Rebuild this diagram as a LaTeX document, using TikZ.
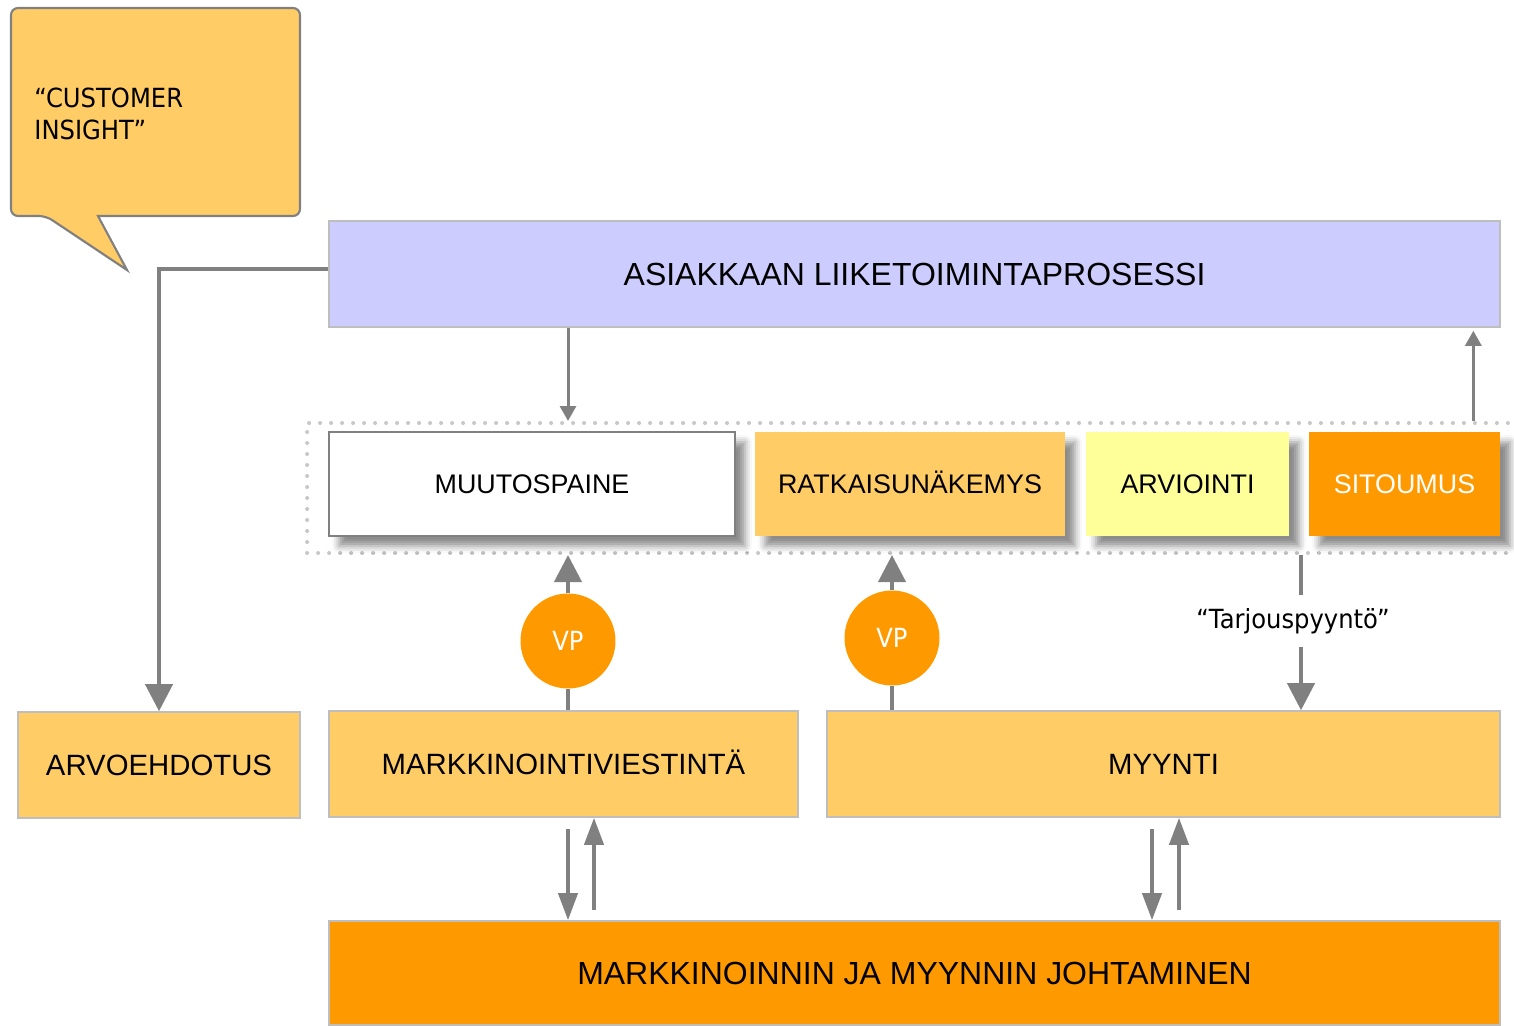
\documentclass[tikz,border=0pt]{standalone}
\usepackage{fontspec}
\setmainfont{Liberation Sans}
\newfontfamily\tahomafont[FakeStretch=0.92]{DejaVu Sans}
\usepackage{tikz}
\usetikzlibrary{positioning,arrows.meta,shadows.blur}
\usepackage{xcolor}
\definecolor{lavender}{RGB}{204,204,255}
\definecolor{softorange}{RGB}{255,204,102}
\definecolor{paleyellow}{RGB}{255,255,153}
\definecolor{deeporange}{RGB}{255,153,0}
\definecolor{edgegray}{RGB}{190,190,190}
\definecolor{arrowgray}{RGB}{128,128,128}
\definecolor{dotgray}{RGB}{200,200,200}

\tikzset{
  block/.style={rectangle,draw=edgegray,line width=0.9pt,inner sep=0pt,
    text height=12pt,text depth=0pt,
    minimum height=2.12cm,font=\fontsize{16.7}{19}\selectfont},
  wideblock/.style={block,text height=13pt,font=\fontsize{18.2}{21}\selectfont},
  phasebox/.style={rectangle,draw=none,inner sep=0pt,minimum height=2.08cm,
    text height=11pt,text depth=0pt,
    font=\fontsize{15.3}{18}\selectfont,
    blur shadow={shadow xshift=0.2cm,shadow yshift=-0.2cm,
      shadow blur radius=0.14cm,shadow opacity=45}},
  vpball/.style={circle,fill=deeporange,text=white,minimum size=1.9cm,inner sep=0pt,
    font=\tahomafont\fontsize{15}{18}\selectfont},
  bigarrow/.style={draw=arrowgray,line width=2.3pt,-{Triangle[width=0.54cm,length=0.54cm]}},
  pairarrow/.style={draw=arrowgray,line width=2.3pt,-{Triangle[width=0.38cm,length=0.54cm]}},
  smallarrow/.style={draw=arrowgray,line width=1.7pt,-{Triangle[width=0.32cm,length=0.3cm]}},
  plainline/.style={draw=arrowgray,line width=2.3pt},
}

\begin{document}
\begin{tikzpicture}[x=0.02cm,y=-0.02cm]
\useasboundingbox (0,0) rectangle (1514,1025);

% puhekupla
\path[draw=arrowgray,fill=softorange,line width=1.2pt]
  (46,216) -- (127,270) -- (98,216)
  [rounded corners=0.14cm] -- (300,216) -- (300,8) -- (11,8) -- (11,216) -- cycle;
\node[anchor=west,align=left,inner sep=0pt,font=\tahomafont\fontsize{15}{18.5}\selectfont]
  (insight) at (34,114) {“CUSTOMER\\INSIGHT”};

% ylarivi
\node[wideblock,fill=lavender,minimum width=23.42cm] (asiakas) at (914.5,274)
  {ASIAKKAAN LIIKETOIMINTAPROSESSI};

% vaiheet
\node[rectangle,draw=dotgray,line width=2.3pt,dash pattern=on 0pt off 0.22cm,line cap=round,
  minimum width=24.46cm,minimum height=2.6cm] (kehys) at (918.5,488) {};
\node[phasebox,fill=white,draw=arrowgray,line width=1.1pt,minimum width=8.12cm] (muutos) at (532,484) {MUUTOSPAINE};
\node[phasebox,fill=softorange,minimum width=6.2cm] (ratkaisu) at (910,484) {RATKAISUNÄKEMYS};
\node[phasebox,fill=paleyellow,minimum width=4.06cm] (arviointi) at (1187.5,484) {ARVIOINTI};
\node[phasebox,fill=deeporange,text=white,minimum width=3.82cm] (sitoumus) at (1404.5,484) {SITOUMUS};

% alarivit
\node[block,fill=softorange,minimum width=5.64cm] (arvo) at (159,765) {ARVOEHDOTUS};
\node[block,fill=softorange,minimum width=9.38cm] (viestinta) at (563.5,764) {MARKKINOINTIVIESTINTÄ};
\node[block,fill=softorange,minimum width=13.46cm] (myynti) at (1163.5,764) {MYYNTI};
\node[wideblock,fill=deeporange,minimum width=23.42cm,minimum height=2.08cm] (johto) at (914.5,973)
  {MARKKINOINNIN JA MYYNNIN JOHTAMINEN};

\node[vpball] (vp1) at (568,641) {VP};
\node[vpball] (vp2) at (892,638) {VP};
\node[inner sep=0pt,minimum height=1.04cm,font=\tahomafont\fontsize{15}{18}\selectfont]
  (tarjous) at (1301,621) {\hspace*{-0.32cm}“Tarjouspyyntö”};

% nuolet
\draw[smallarrow] (asiakas.south -| vp1) -- (kehys.north -| vp1);
\draw[smallarrow] ([xshift=-0.54cm]kehys.north -| sitoumus.east) -- ([xshift=-0.54cm,yshift=-0.06cm]asiakas.south -| sitoumus.east);
\draw[bigarrow] ([yshift=0.1cm]asiakas.west) -| (arvo.north);

\draw[plainline] (viestinta.north -| vp1) -- (vp1.south);
\draw[bigarrow] (vp1.north) -- (kehys.south -| vp1);
\draw[plainline] (myynti.north -| vp2) -- (vp2.south);
\draw[bigarrow] (vp2.north) -- (kehys.south -| vp2);

\draw[plainline] (kehys.south -| tarjous) -- (tarjous.north);
\draw[bigarrow] (tarjous.south) -- (myynti.north -| tarjous);

\draw[pairarrow] ([yshift=-0.22cm]viestinta.south -| vp1) -- (johto.north -| vp1);
\draw[pairarrow] ([xshift=0.52cm,yshift=0.2cm]johto.north -| vp1) -- ([xshift=0.52cm]viestinta.south -| vp1);
\draw[pairarrow] ([xshift=-0.23cm,yshift=-0.22cm]myynti.south) -- ([xshift=-0.23cm]johto.north -| myynti);
\draw[pairarrow] ([xshift=0.31cm,yshift=0.2cm]johto.north -| myynti) -- ([xshift=0.31cm]myynti.south);
\end{tikzpicture}
\end{document}
